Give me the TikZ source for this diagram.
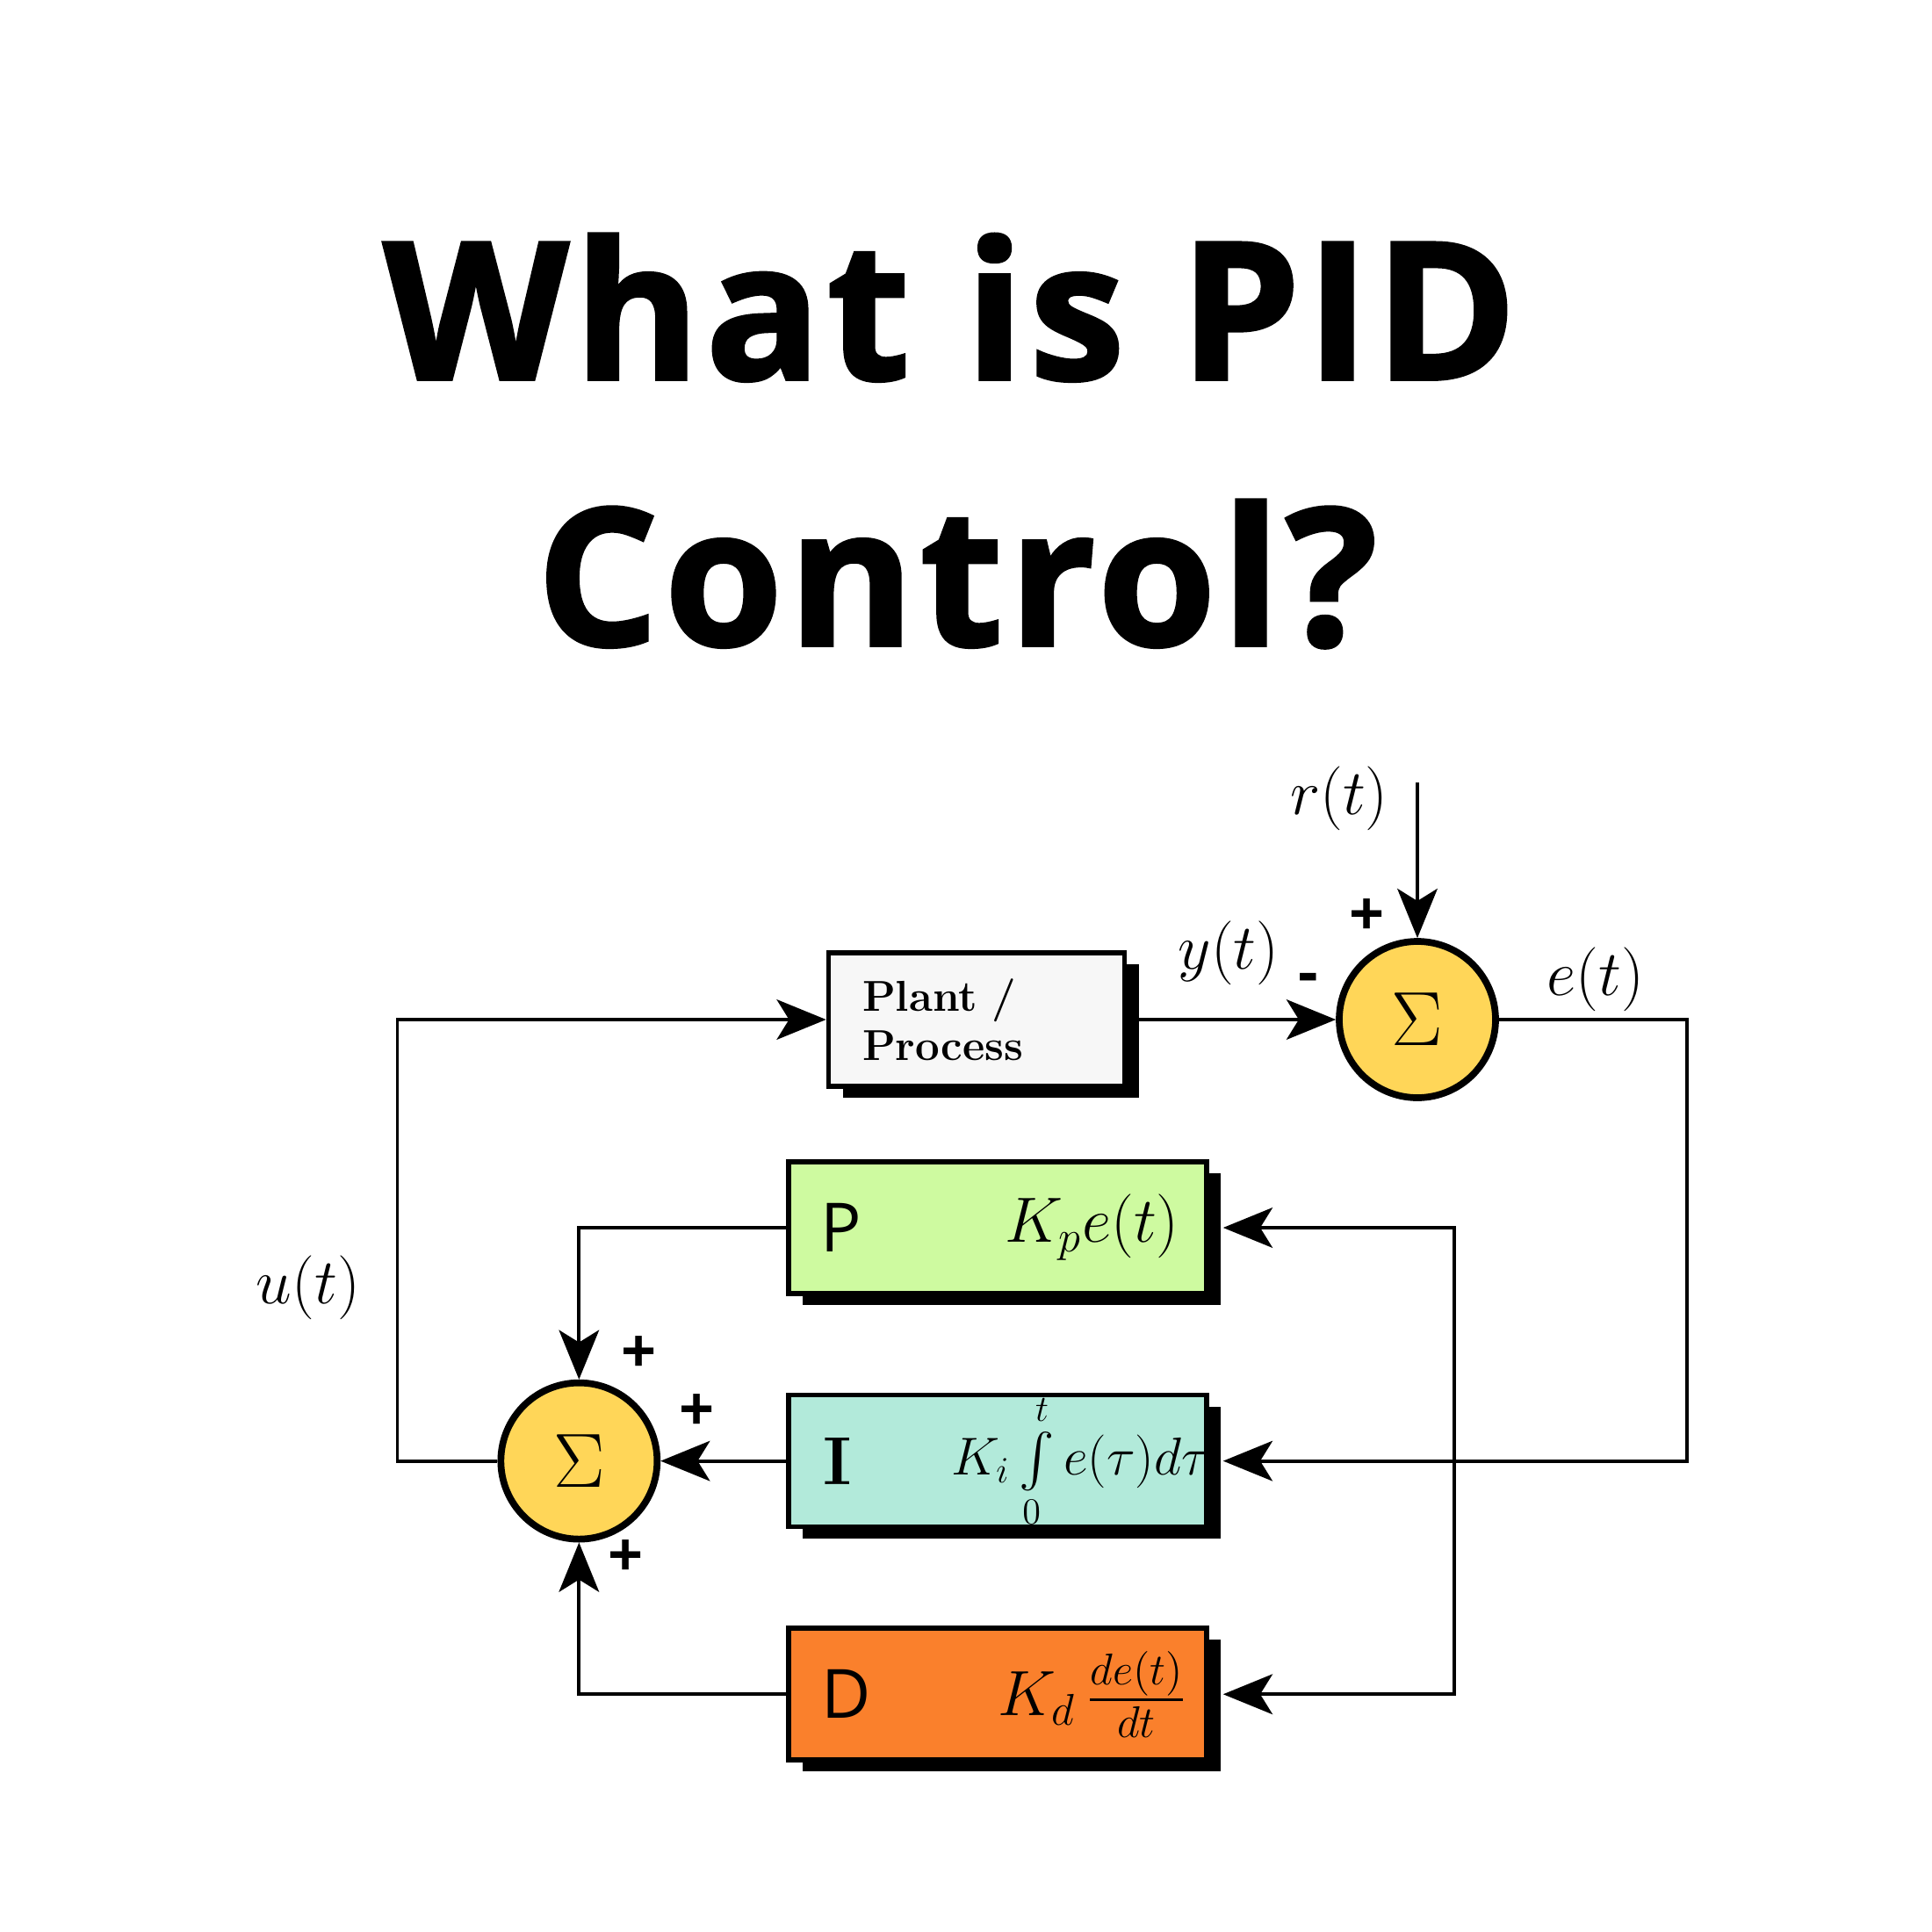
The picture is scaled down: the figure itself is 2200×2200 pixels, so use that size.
\documentclass[tikz,border=0pt]{standalone}
\usepackage{amsmath}
\usepackage{fontspec}
\newfontfamily\titlefont{Open Sans}[BoldFeatures={FakeBold=1.8},LetterSpace=3]
\setsansfont{Open Sans}
\usetikzlibrary{positioning,arrows.meta,shadows}

\definecolor{sumyellow}{RGB}{255,214,88}
\definecolor{pgreen}{RGB}{206,250,160}
\definecolor{icyan}{RGB}{178,234,218}
\definecolor{dorange}{RGB}{250,128,44}
\definecolor{plantgray}{RGB}{247,247,247}

\begin{document}
\begin{tikzpicture}[x=0.1mm,y=-0.1mm]
\tikzset{
  blockbox/.style={draw,line width=1.6pt,minimum width=47.6mm,minimum height=15mm,inner sep=0pt,
    drop shadow={shadow xshift=1.6mm,shadow yshift=-1.3mm,fill=black,opacity=1}},
  sumnode/.style={circle,draw,line width=2.2pt,fill=sumyellow,minimum size=17.8mm,inner sep=0pt,
    font=\fontsize{36}{40}\selectfont},
  sig/.style={font=\fontsize{20}{24}\selectfont},
  sign/.style={font=\sffamily\bfseries\fontsize{20}{24}\selectfont,inner sep=0pt},
  letter/.style={font=\sffamily\fontsize{22}{26}\selectfont},
  wire/.style={line width=1.1pt},
  arr/.style={wire,-{Stealth[length=16pt,width=13pt,inset=4pt]}}
}
\fill[white] (0,0) rectangle (2200,2200);
\useasboundingbox (0,0) rectangle (2200,2200);

% title
\node[anchor=base,font=\titlefont\bfseries\fontsize{62}{70}\selectfont] (title1) at (1082,432) {What is PID};
\node[anchor=base,font=\titlefont\bfseries\fontsize{62}{70}\selectfont] (title2) at (1090,735) {Control?};

% plant and comparator
\node[blockbox,fill=plantgray,minimum width=33.7mm,minimum height=15.2mm,text width=26mm,align=left,
  font=\bfseries\fontsize{14}{16}\selectfont] (plant) at (1112,1161) {Plant /\\Process};
\node[sumnode] (sum1) at (1614,1161) {$\Sigma$};

% P, I, D blocks
\node[blockbox,fill=pgreen] (P) at (1136,1398) {};
\node[blockbox,fill=icyan,below=11mm of P] (I) {};
\node[blockbox,fill=dorange,below=11mm of I] (D) {};
\node[letter] (Pl) at ([xshift=6.3mm]P.west) {P};
\node[sig] (Pf) at ([xshift=-13.3mm]P.east) {$K_p e(t)$};
\node[font=\bfseries\fontsize{22}{26}\selectfont] (Il) at ([xshift=5.8mm]I.west) {I};
\node[font=\fontsize{18}{22}\selectfont] (If) at ([xshift=-14.6mm]I.east) {$K_i\int\limits_0^t e(\tau)d\tau$};
\node[letter] (Dl) at ([xshift=6.8mm]D.west) {D};
\node[sig] (Df) at ([xshift=-13.3mm]D.east) {$K_d\,\tfrac{de(t)}{dt}$};

% summing junction
\node[sumnode,left=14.3mm of I] (sum2) {$\Sigma$};

% signals
\node[sig] (rlbl) at (1525,909) {$r(t)$};
\node[sig] (ylbl) at (1399,1085) {$y(t)$};
\node[sig] (elbl) at (1817,1115) {$e(t)$};
\node[sig] (ulbl) at (351,1466) {$u(t)$};
\node[sign] (s1a) at (1557,1045) {+};
\node[sign] (s1b) at (1490,1120) {-};
\node[sign] (s2a) at (728,1543) {+};
\node[sign] (s2b) at (794,1609) {+};
\node[sign] (s2c) at (713,1775) {+};

\coordinate (rin) at (1614,891);
\coordinate (ecorner) at ([xshift=54.4mm]I.east);
\coordinate (tap) at ([xshift=27.9mm]I.east);

\draw[arr] (rin) -- (sum1.north);
\draw[arr] (plant.east) -- (sum1.west);
\draw[arr,shorten >=1.6mm] (sum1.east) -| (ecorner) -- (I.east);
\draw[arr,shorten >=1.6mm] (tap) |- (P.east);
\draw[arr,shorten >=1.6mm] (tap) |- (D.east);
\draw[arr] (P.west) -| (sum2.north);
\draw[arr] (I.west) -- (sum2.east);
\draw[arr] (D.west) -| (sum2.south);
\draw[arr] (sum2.west) -- ++(-114,0) |- (plant.west);
\end{tikzpicture}
\end{document}
